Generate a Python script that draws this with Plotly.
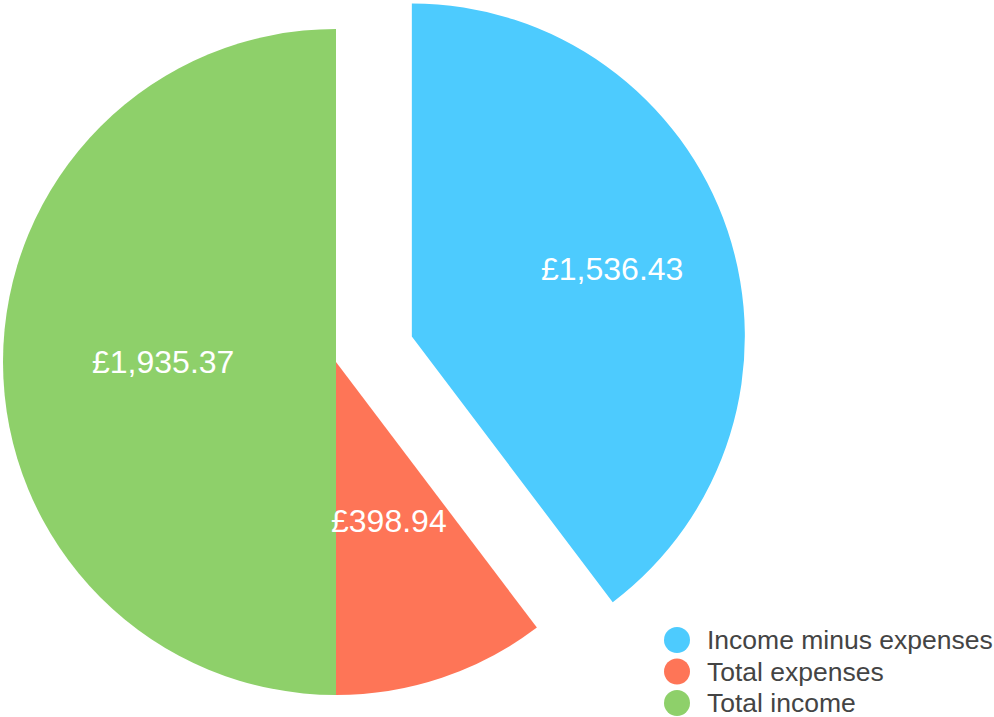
import math
import plotly.graph_objects as go

categories = ["Income minus expenses", "Total expenses", "Total income"]
values = [1536.43, 398.94, 1935.37]
colors = ["#4dcbfe", "#fe7557", "#8ed06a"]

W, H = 994, 717
CLEAR = "rgba(0,0,0,0)"
FONT = "Liberation Sans, Arial, Helvetica, sans-serif"
labels_txt = ["£{:,.2f}".format(v) for v in values]

# geometry (in screen pixels)
R = 333
CENTER = (336, 362)
PULL_OFFSET = 80
label_frac = [0.634, 0.504, 0.52]

total = sum(values)
mids = []
acc = 0.0
for v in values:
    a0 = acc / total * 2 * math.pi
    a1 = (acc + v) / total * 2 * math.pi
    mids.append((a0 + a1) / 2)
    acc += v

pcx = CENTER[0] + PULL_OFFSET * math.sin(mids[0])
pcy = CENTER[1] - PULL_OFFSET * math.cos(mids[0])
centers = [(pcx, pcy), CENTER, CENTER]


def px(x):
    return x / W


def py(y):
    return (H - y) / H


def dom(cx, cy, r):
    return dict(x=[max(0, px(cx - r)), min(1, px(cx + r))],
                y=[max(0, py(cy + r)), min(1, py(cy - r))])


fig = go.Figure()
fig.add_trace(go.Pie(
    labels=categories, values=values, sort=False, direction="clockwise", rotation=0,
    marker=dict(colors=[CLEAR, colors[1], colors[2]], line=dict(width=0)),
    textinfo="none", domain=dom(CENTER[0], CENTER[1], R),
    showlegend=False, hoverinfo="label+value",
))
fig.add_trace(go.Pie(
    labels=categories, values=values, sort=False, direction="clockwise", rotation=0,
    marker=dict(colors=[colors[0], CLEAR, CLEAR], line=dict(width=0)),
    textinfo="none", domain=dom(pcx, pcy, R),
    showlegend=False, hoverinfo="label+value",
))

annots, shapes = [], []
# value labels
for i, t in enumerate(labels_txt):
    cx, cy = centers[i]
    lx = cx + label_frac[i] * R * math.sin(mids[i])
    ly = cy - label_frac[i] * R * math.cos(mids[i])
    annots.append(dict(xref="paper", yref="paper", x=px(lx), y=py(ly),
                       xanchor="center", yanchor="middle", showarrow=False, text=t,
                       font=dict(family=FONT, size=32, color="white")))

# legend: circles + text
for i, (c, name) in enumerate(zip(colors, categories)):
    cy = 640 + i * 31.5
    shapes.append(dict(type="circle", xref="paper", yref="paper",
                       x0=px(677 - 13), x1=px(677 + 13),
                       y0=py(cy + 13), y1=py(cy - 13),
                       fillcolor=c, line=dict(width=0)))
    annots.append(dict(xref="paper", yref="paper", x=px(705), y=py(cy),
                       xanchor="left", yanchor="middle", showarrow=False, text=name,
                       font=dict(family=FONT, size=26.5, color="#444444")))

fig.update_layout(width=W, height=H, margin=dict(l=0, r=0, t=0, b=0),
                  paper_bgcolor="white", plot_bgcolor="white",
                  shapes=shapes, annotations=annots, showlegend=False)
fig.write_html("out.html", config={"displayModeBar": False},
               post_script="document.body.style.margin='0';document.body.style.overflow='hidden';")
